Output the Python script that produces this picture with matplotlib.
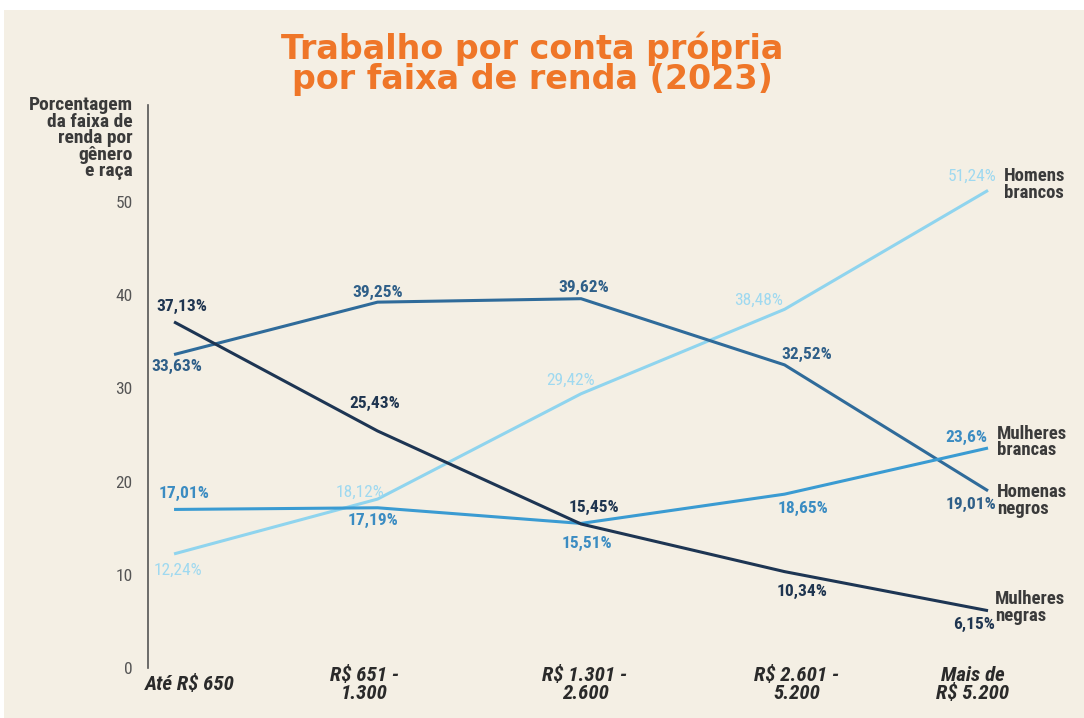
"""Trabalho por conta própria por faixa de renda (2023) - line chart."""

import matplotlib.pyplot as plt
from matplotlib.patches import Rectangle
from matplotlib.transforms import ScaledTranslation

# ------------------------------
# Data
# ------------------------------

faixas = ["Até R$ 650", "R$ 651 -\n1.300", "R$ 1.301 -\n2.600", "R$ 2.601 -\n5.200", "Mais de\nR$ 5.200"]

homens_brancos = [12.24, 18.12, 29.42, 38.48, 51.24]
homens_negros = [33.63, 39.25, 39.62, 32.52, 19.01]
mulheres_brancas = [17.01, 17.19, 15.51, 18.65, 23.60]
mulheres_negras = [37.13, 25.43, 15.45, 10.34, 6.15]

nomes = ["Homens\nbrancos", "Homenas\nnegros", "Mulheres\nbrancas", "Mulheres\nnegras"]

# ------------------------------
# Styles
# ------------------------------

BG = "#f4efe4"
line_colors = ["#8fd4ee", "#2f6b9a", "#3a9bd2", "#1d3553"]
label_colors = ["#9fd9f0", "#2f5f88", "#3b8cc2", "#1f3550"]
cond = ["Roboto Condensed", "Roboto", "DejaVu Sans"]

# label offsets in pixels (dx, dy) per series / point
offsets = [
    [(4, -16), (-18, 7), (-10, 13), (-26, 9), (-16, 14)],
    [(3, -12), (0, 10), (3, 11), (22, 10), (-17, -14)],
    [(10, 16), (-5, -13), (6, -20), (18, -14), (-22, 11)],
    [(8, 15), (-3, 27), (13, 16), (18, -20), (-14, -14)],
]
name_offsets = [(16, 6), (9, -10), (9, 6), (7, 3)]
# horizontal shift of category labels (pixels)
tick_shift = [16, -13, 4, 12, -15]

plt.rcParams["font.family"] = cond

fig = plt.figure(figsize=(10.84, 7.18), dpi=100, facecolor="white")
fig.patches.append(Rectangle((0.004, 0.0), 0.996, 0.986, transform=fig.transFigure,
                             facecolor=BG, edgecolor="none", zorder=-10))

ax = fig.add_axes([148 / 1084, 1 - 668 / 718, (1045 - 148) / 1084, (668 - 105) / 718])
ax.set_facecolor("none")

x = list(range(len(faixas)))
series = [homens_brancos, homens_negros, mulheres_brancas, mulheres_negras]

for vals, lc, tc, offs, name, noff in zip(series, line_colors, label_colors, offsets, nomes, name_offsets):
    ax.plot(x, vals, color=lc, linewidth=2.2, solid_capstyle="butt", zorder=3)
    for xi, v, (dx, dy) in zip(x, vals, offs):
        txt = f"{v:.2f}".replace(".", ",").rstrip("0") + "%"
        ax.annotate(txt, (xi, v), xytext=(dx, dy), textcoords="offset pixels",
                    ha="center", va="center", fontsize=12.5, color=tc,
                    fontweight="bold" if tc != label_colors[0] else "normal", family=cond)
    ax.annotate(name, (x[-1], vals[-1]), xytext=noff, textcoords="offset pixels",
                ha="left", va="center", fontsize=13.5, fontweight="bold",
                color="#3a3a3a", linespacing=0.92, family=cond)

ax.set_xlim(-0.128, 4.28)
ax.set_ylim(0, 60.4)
ax.set_yticks([0, 10, 20, 30, 40, 50])
ax.set_xticks(x)
ax.set_xticklabels(faixas, fontsize=15, fontweight="bold", fontstyle="italic",
                   color="#2a2a2a", linespacing=0.95)
ax.tick_params(axis="y", length=0, pad=11, labelsize=12.5, labelcolor="#555555")
ax.tick_params(axis="x", length=0, pad=12)
for lab, dx in zip(ax.get_xticklabels(), tick_shift):
    lab.set_va("center")
    lab.set_transform(lab.get_transform() + ScaledTranslation(dx / 100, 0, fig.dpi_scale_trans))

for s in ["top", "right", "bottom"]:
    ax.spines[s].set_visible(False)
ax.spines["left"].set_color("#555555")
ax.spines["left"].set_linewidth(1.2)

fig.text(133 / 1084, 1 - 96 / 718, "Porcentagem\nda faixa de\nrenda por\ngênero\ne raça",
         ha="right", va="top", fontsize=14, fontweight="bold", color="#3a3a3a",
         linespacing=0.9, family=cond)

fig.text(532 / 1084, 1 - 64 / 718, "Trabalho por conta própria\npor faixa de renda (2023)",
         ha="center", va="center", fontsize=24, fontweight="bold", color="#ef7628",
         linespacing=0.9, family=["DejaVu Sans"])

fig.savefig("out.png", dpi=100, facecolor=fig.get_facecolor())
